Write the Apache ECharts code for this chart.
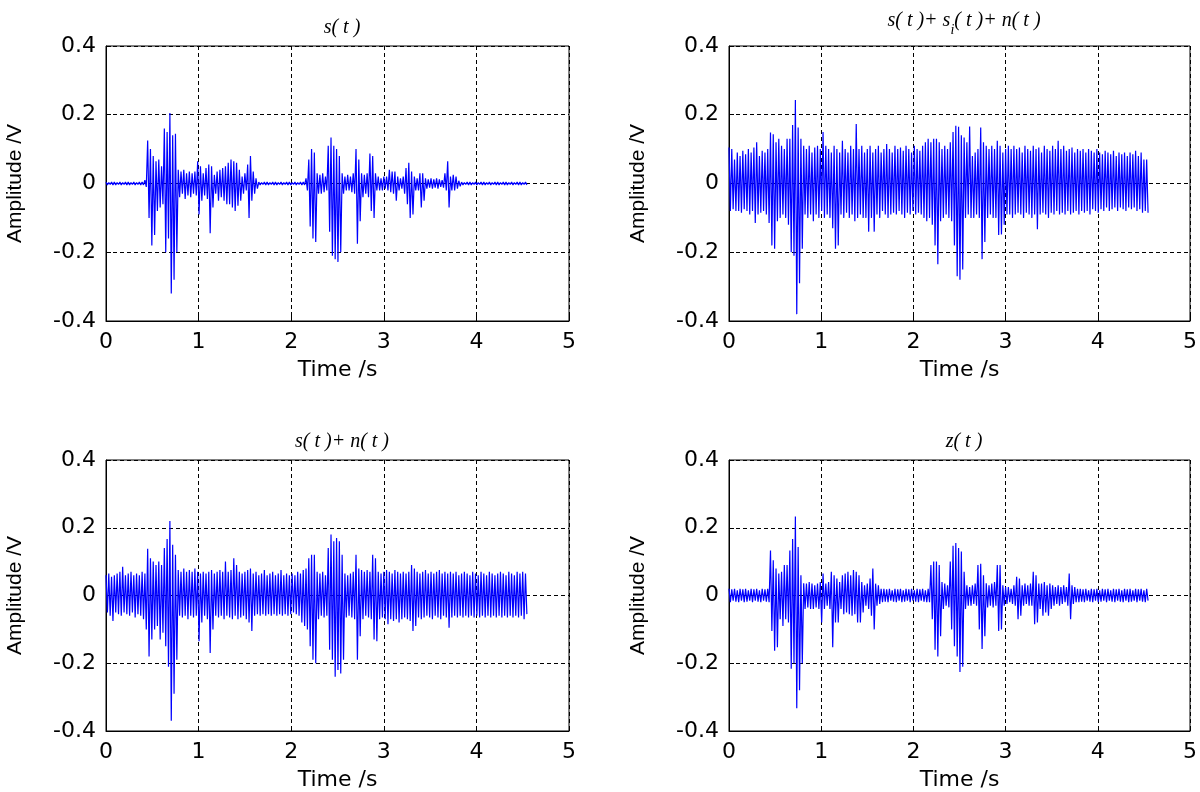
<!DOCTYPE html>
<html><head><meta charset="utf-8">
<script src="https://cdn.jsdelivr.net/npm/echarts@6/dist/echarts.min.js"></script>
<style>html,body{margin:0;padding:0;background:#fff}#c{width:1200px;height:792px}</style>
</head><body><div id="c"></div>
<script>
// ---- data ----
const xTicks = [0, 1, 2, 3, 4, 5];
const yTicks = [-0.4, -0.2, 0, 0.2, 0.4];
const sampleStep = 0.03; // seconds between successive envelope samples

// s(t): local maxima / minima per sample
const sHi = [0.004,0.003,0.004,0.004,0.003,0.004,0.003,0.004,0.004,0.003,0.004,0.003,0.004,0.004,
0.01,0.125,0.10,0.08,0.065,0.07,0.05,0.16,0.15,0.205,0.14,0.145,0.04,0.035,0.04,0.03,0.035,0.03,0.035,0.065,0.05,0.03,0.045,0.055,0.05,0.025,0.035,0.04,0.045,0.05,0.06,0.07,0.065,0.06,0.04,0.02,0.03,0.055,0.08,0.035,0.015,
0.004,0.003,0.004,0.004,0.003,0.004,0.004,0.003,0.004,0.003,0.004,0.004,0.003,0.004,0.003,0.004,0.004,
0.015,0.07,0.10,0.09,0.03,0.025,0.03,0.02,0.11,0.134,0.11,0.10,0.08,0.03,0.02,0.025,0.02,0.03,0.10,0.07,0.03,0.025,0.03,0.087,0.08,0.03,0.02,0.015,0.02,0.02,0.04,0.035,0.035,0.02,0.015,0.02,0.045,0.06,0.035,0.02,0.015,0.03,0.03,0.015,0.012,0.015,0.012,0.015,0.012,0.01,0.03,0.065,0.02,0.025,0.02,0.008,
0.004,0.003,0.004,0.004,0.003,0.004,0.003,0.004,0.004,0.003,0.004,0.003,0.004,0.004,0.003,0.004,0.004,0.003,0.004,0.003,0.004,0.004,0.003,0.004];
const sLo = [-0.004,-0.003,-0.004,-0.004,-0.003,-0.004,-0.003,-0.004,-0.004,-0.003,-0.004,-0.003,-0.004,-0.004,
-0.01,-0.10,-0.18,-0.15,-0.08,-0.07,-0.06,-0.20,-0.16,-0.32,-0.28,-0.20,-0.04,-0.03,-0.045,-0.035,-0.04,-0.03,-0.035,-0.09,-0.05,-0.035,-0.045,-0.145,-0.07,-0.03,-0.05,-0.04,-0.05,-0.06,-0.06,-0.07,-0.08,-0.065,-0.05,-0.03,-0.02,-0.10,-0.05,-0.03,-0.015,
-0.004,-0.003,-0.004,-0.004,-0.003,-0.004,-0.004,-0.003,-0.004,-0.003,-0.004,-0.004,-0.003,-0.004,-0.003,-0.004,-0.004,
-0.02,-0.125,-0.16,-0.17,-0.03,-0.03,-0.025,-0.02,-0.14,-0.21,-0.22,-0.228,-0.20,-0.03,-0.02,-0.02,-0.025,-0.03,-0.175,-0.11,-0.04,-0.03,-0.04,-0.08,-0.10,-0.02,-0.02,-0.02,-0.015,-0.02,-0.025,-0.03,-0.05,-0.02,-0.015,-0.03,-0.06,-0.10,-0.09,-0.02,-0.02,-0.07,-0.05,-0.015,-0.012,-0.015,-0.012,-0.015,-0.01,-0.012,-0.02,-0.07,-0.02,-0.02,-0.015,-0.008,
-0.004,-0.003,-0.004,-0.004,-0.003,-0.004,-0.003,-0.004,-0.004,-0.003,-0.004,-0.003,-0.004,-0.004,-0.003,-0.004,-0.004,-0.003,-0.004,-0.003,-0.004,-0.004,-0.003,-0.004];

// s(t)+s_i(t)+n(t)
const sinHi = [0.105,0.10,0.07,0.09,0.08,0.095,0.085,0.10,0.09,0.105,0.12,0.08,0.095,0.09,0.10,0.148,0.143,0.12,0.13,0.11,0.10,0.13,0.13,0.17,0.243,0.163,0.13,0.11,0.10,0.11,0.09,0.105,0.11,0.10,0.15,0.11,0.10,0.09,0.11,0.10,0.09,0.124,0.10,0.09,0.11,0.10,0.173,0.10,0.11,0.09,0.10,0.11,0.09,0.10,0.11,0.09,0.10,0.115,0.10,0.09,0.11,0.10,0.105,0.095,0.11,0.10,0.09,0.11,0.10,0.095,0.11,0.12,0.13,0.12,0.13,0.13,0.12,0.10,0.11,0.10,0.12,0.15,0.168,0.165,0.14,0.134,0.12,0.166,0.08,0.09,0.10,0.163,0.12,0.11,0.10,0.11,0.10,0.124,0.11,0.09,0.10,0.11,0.10,0.11,0.10,0.105,0.09,0.11,0.10,0.095,0.11,0.10,0.105,0.09,0.11,0.10,0.095,0.11,0.10,0.124,0.10,0.11,0.095,0.10,0.105,0.09,0.10,0.095,0.10,0.09,0.10,0.095,0.09,0.10,0.09,0.085,0.095,0.09,0.085,0.095,0.08,0.09,0.085,0.09,0.08,0.09,0.085,0.095,0.08,0.09,0.07,0.07];
const sinLo = [-0.08,-0.075,-0.08,-0.08,-0.085,-0.075,-0.08,-0.09,-0.08,-0.115,-0.09,-0.085,-0.08,-0.09,-0.115,-0.18,-0.19,-0.11,-0.10,-0.09,-0.10,-0.12,-0.20,-0.21,-0.38,-0.29,-0.19,-0.09,-0.10,-0.09,-0.11,-0.09,-0.10,-0.08,-0.10,-0.09,-0.10,-0.13,-0.19,-0.18,-0.09,-0.10,-0.085,-0.10,-0.09,-0.11,-0.10,-0.09,-0.10,-0.10,-0.14,-0.10,-0.14,-0.09,-0.10,-0.08,-0.09,-0.10,-0.09,-0.085,-0.09,-0.08,-0.09,-0.10,-0.085,-0.09,-0.08,-0.09,-0.085,-0.09,-0.10,-0.11,-0.10,-0.12,-0.18,-0.235,-0.11,-0.10,-0.09,-0.10,-0.11,-0.18,-0.27,-0.28,-0.25,-0.10,-0.09,-0.10,-0.10,-0.09,-0.10,-0.22,-0.17,-0.10,-0.09,-0.10,-0.10,-0.15,-0.148,-0.12,-0.09,-0.09,-0.10,-0.09,-0.085,-0.09,-0.10,-0.085,-0.09,-0.10,-0.09,-0.133,-0.09,-0.085,-0.09,-0.10,-0.085,-0.09,-0.08,-0.09,-0.085,-0.09,-0.08,-0.09,-0.085,-0.08,-0.09,-0.08,-0.085,-0.08,-0.09,-0.075,-0.08,-0.085,-0.075,-0.08,-0.07,-0.08,-0.075,-0.07,-0.08,-0.07,-0.075,-0.08,-0.07,-0.075,-0.07,-0.08,-0.075,-0.085,-0.08,-0.085];

// s(t)+n(t)
const snHi = [0.06,0.065,0.055,0.06,0.065,0.07,0.085,0.06,0.065,0.07,0.06,0.065,0.06,0.07,0.065,0.138,0.11,0.10,0.09,0.10,0.09,0.14,0.167,0.22,0.15,0.12,0.075,0.07,0.08,0.07,0.075,0.07,0.08,0.07,0.065,0.07,0.065,0.07,0.075,0.065,0.07,0.075,0.07,0.10,0.07,0.075,0.11,0.09,0.07,0.065,0.07,0.075,0.08,0.065,0.07,0.06,0.065,0.075,0.06,0.065,0.07,0.06,0.065,0.075,0.06,0.065,0.06,0.065,0.06,0.07,0.065,0.075,0.08,0.11,0.12,0.12,0.07,0.065,0.07,0.06,0.14,0.18,0.16,0.17,0.16,0.12,0.065,0.06,0.065,0.07,0.12,0.08,0.075,0.07,0.075,0.07,0.12,0.11,0.07,0.065,0.07,0.075,0.07,0.065,0.075,0.07,0.065,0.07,0.065,0.07,0.09,0.08,0.07,0.065,0.07,0.075,0.065,0.07,0.065,0.07,0.075,0.065,0.07,0.065,0.07,0.065,0.07,0.06,0.065,0.07,0.065,0.06,0.07,0.065,0.06,0.07,0.065,0.06,0.07,0.065,0.06,0.065,0.07,0.065,0.06,0.07,0.065,0.06,0.07,0.065,0.07,0.065];
const snLo = [-0.05,-0.06,-0.075,-0.05,-0.055,-0.06,-0.05,-0.055,-0.06,-0.05,-0.065,-0.055,-0.06,-0.07,-0.10,-0.18,-0.13,-0.10,-0.09,-0.13,-0.11,-0.15,-0.21,-0.37,-0.29,-0.19,-0.06,-0.065,-0.06,-0.07,-0.06,-0.065,-0.06,-0.135,-0.08,-0.06,-0.07,-0.17,-0.10,-0.06,-0.065,-0.06,-0.07,-0.06,-0.065,-0.07,-0.06,-0.07,-0.065,-0.06,-0.07,-0.08,-0.105,-0.06,-0.055,-0.06,-0.055,-0.06,-0.055,-0.06,-0.055,-0.06,-0.055,-0.06,-0.055,-0.06,-0.055,-0.05,-0.055,-0.06,-0.08,-0.09,-0.10,-0.15,-0.19,-0.20,-0.07,-0.06,-0.065,-0.06,-0.16,-0.19,-0.24,-0.22,-0.23,-0.19,-0.065,-0.06,-0.065,-0.07,-0.19,-0.12,-0.07,-0.06,-0.065,-0.07,-0.13,-0.135,-0.07,-0.065,-0.07,-0.085,-0.07,-0.075,-0.07,-0.08,-0.07,-0.065,-0.07,-0.075,-0.105,-0.09,-0.065,-0.07,-0.065,-0.06,-0.065,-0.07,-0.06,-0.065,-0.07,-0.06,-0.065,-0.095,-0.065,-0.06,-0.065,-0.06,-0.065,-0.06,-0.065,-0.06,-0.065,-0.06,-0.065,-0.06,-0.065,-0.06,-0.065,-0.06,-0.065,-0.06,-0.065,-0.06,-0.065,-0.06,-0.065,-0.06,-0.065,-0.06,-0.07,-0.055];

// z(t)
const zHi = [0.02,0.018,0.02,0.015,0.02,0.018,0.02,0.015,0.02,0.018,0.02,0.015,0.02,0.018,0.02,
0.133,0.104,0.08,0.065,0.07,0.09,0.09,0.133,0.167,0.233,0.143,0.06,0.036,0.035,0.04,0.035,0.03,0.035,0.04,0.065,0.035,0.04,0.07,0.06,0.05,0.04,0.06,0.065,0.07,0.06,0.075,0.07,0.06,0.04,0.03,0.035,0.05,0.08,0.035,0.03,0.02,0.02,
0.018,0.02,0.015,0.02,0.018,0.02,0.015,0.02,0.018,0.02,0.015,0.02,0.018,0.02,0.015,
0.02,0.09,0.10,0.10,0.09,0.04,0.035,0.03,0.10,0.147,0.155,0.14,0.13,0.07,0.03,0.025,0.03,0.035,0.09,0.094,0.06,0.036,0.03,0.035,0.04,0.09,0.09,0.03,0.025,0.025,0.02,0.03,0.055,0.05,0.03,0.035,0.03,0.035,0.07,0.06,0.035,0.035,0.04,0.03,0.035,0.03,0.025,0.03,0.025,0.03,0.025,0.065,0.03,0.025,0.02,
0.02,0.018,0.02,0.015,0.02,0.018,0.02,0.015,0.02,0.018,0.02,0.015,0.02,0.018,0.02,0.015,0.02,0.018,0.02,0.015,0.02,0.018,0.02,0.015,0.02];
const zLo = [-0.02,-0.015,-0.018,-0.02,-0.015,-0.02,-0.018,-0.015,-0.02,-0.015,-0.018,-0.02,-0.015,-0.018,-0.02,
-0.105,-0.163,-0.153,-0.07,-0.09,-0.07,-0.08,-0.216,-0.20,-0.333,-0.28,-0.20,-0.04,-0.035,-0.04,-0.04,-0.035,-0.04,-0.08,-0.04,-0.03,-0.04,-0.153,-0.08,-0.08,-0.04,-0.055,-0.05,-0.055,-0.06,-0.055,-0.08,-0.08,-0.05,-0.03,-0.04,-0.06,-0.10,-0.03,-0.025,-0.02,-0.018,
-0.02,-0.015,-0.018,-0.02,-0.015,-0.02,-0.018,-0.015,-0.02,-0.015,-0.018,-0.02,-0.015,-0.018,-0.02,
-0.02,-0.07,-0.16,-0.18,-0.12,-0.04,-0.03,-0.035,-0.10,-0.15,-0.18,-0.226,-0.21,-0.04,-0.03,-0.03,-0.025,-0.03,-0.10,-0.158,-0.12,-0.035,-0.03,-0.035,-0.03,-0.105,-0.10,-0.03,-0.025,-0.02,-0.025,-0.03,-0.07,-0.06,-0.03,-0.025,-0.03,-0.03,-0.085,-0.08,-0.04,-0.06,-0.05,-0.06,-0.04,-0.03,-0.025,-0.03,-0.025,-0.02,-0.03,-0.07,-0.025,-0.02,-0.02,
-0.018,-0.02,-0.015,-0.018,-0.02,-0.015,-0.02,-0.018,-0.015,-0.02,-0.015,-0.018,-0.02,-0.015,-0.018,-0.02,-0.015,-0.02,-0.018,-0.015,-0.02,-0.015,-0.018,-0.02,-0.015];

// ---- build ----
function zig(hi, lo) {
  const d = [];
  const n = Math.min(hi.length, lo.length);
  for (let i = 0; i < n; i++) {
    const t = i * sampleStep;
    d.push([t, hi[i]]);
    d.push([t + sampleStep / 2, lo[i]]);
  }
  return d;
}
const panels = [
  {grid: {left: 106, top: 46, width: 463, height: 275}, hi: sHi, lo: sLo},
  {grid: {left: 729, top: 46, width: 461, height: 275}, hi: sinHi, lo: sinLo},
  {grid: {left: 106, top: 460, width: 463, height: 275}, hi: snHi, lo: snLo},
  {grid: {left: 729, top: 460, width: 461, height: 275}, hi: zHi, lo: zLo}
];
const tickFont = {fontFamily: 'DejaVu Sans', fontSize: 22, color: '#000'};
const serif = {fontFamily: 'Liberation Serif', fontStyle: 'italic', fontWeight: 'normal', fontSize: 20, color: '#000'};
const gridLine = {show: true, lineStyle: {color: '#000', type: [4, 3], width: 1}};

const option = {
  backgroundColor: '#fff',
  animation: false,
  title: [
    {text: 's( t )', left: 337, top: 12, textAlign: 'center', textStyle: Object.assign({lineHeight: 22}, serif)},
    {text: '{a|s( t )+ s}{b|i}{a|( t )+ n( t )}', left: 959, top: 0, textAlign: 'center',
     textStyle: {fontWeight: 'normal', rich: {a: Object.assign({lineHeight: 22, verticalAlign: 'middle'}, serif),
                        b: Object.assign({}, serif, {fontSize: 14, lineHeight: 32, verticalAlign: 'bottom'})}}},
    {text: 's( t )+ n( t )', left: 337, top: 426, textAlign: 'center', textStyle: Object.assign({lineHeight: 22}, serif)},
    {text: 'z( t )', left: 959, top: 426, textAlign: 'center', textStyle: Object.assign({lineHeight: 22}, serif)}
  ],
  grid: panels.map(p => Object.assign({show: true, borderColor: '#000', borderWidth: 1, backgroundColor: '#fff'}, p.grid)),
  xAxis: panels.map((p, k) => ({
    type: 'value', gridIndex: k, min: xTicks[0], max: xTicks[xTicks.length - 1], interval: 1,
    name: 'Time /s', nameLocation: 'middle', nameGap: 38, nameTextStyle: tickFont,
    axisLine: {show: true, onZero: false, lineStyle: {color: '#000'}},
    axisTick: {show: true, inside: true, length: 5, lineStyle: {color: '#000'}},
    axisLabel: Object.assign({margin: 10}, tickFont),
    splitLine: gridLine
  })),
  yAxis: panels.map((p, k) => ({
    type: 'value', gridIndex: k, min: yTicks[0], max: yTicks[yTicks.length - 1], interval: 0.2,
    name: 'Amplitude /V', nameLocation: 'middle', nameGap: 80, nameRotate: 90,
    nameTextStyle: {fontFamily: 'Liberation Sans', fontSize: 21, color: '#000'},
    axisLine: {show: true, onZero: false, lineStyle: {color: '#000'}},
    axisTick: {show: true, inside: true, length: 5, lineStyle: {color: '#000'}},
    axisLabel: Object.assign({margin: 10, formatter: v => String(Math.round(v * 10) / 10)}, tickFont),
    splitLine: gridLine
  })),
  series: panels.map((p, k) => ({
    type: 'line', xAxisIndex: k, yAxisIndex: k, data: zig(p.hi, p.lo),
    showSymbol: false, symbol: 'none', sampling: null,
    lineStyle: {color: '#0000ff', width: 1.2}, z: 3
  }))
};
const chart = echarts.init(document.getElementById('c'), null, {renderer: 'canvas'});
chart.setOption(option);
</script>
</body></html>
